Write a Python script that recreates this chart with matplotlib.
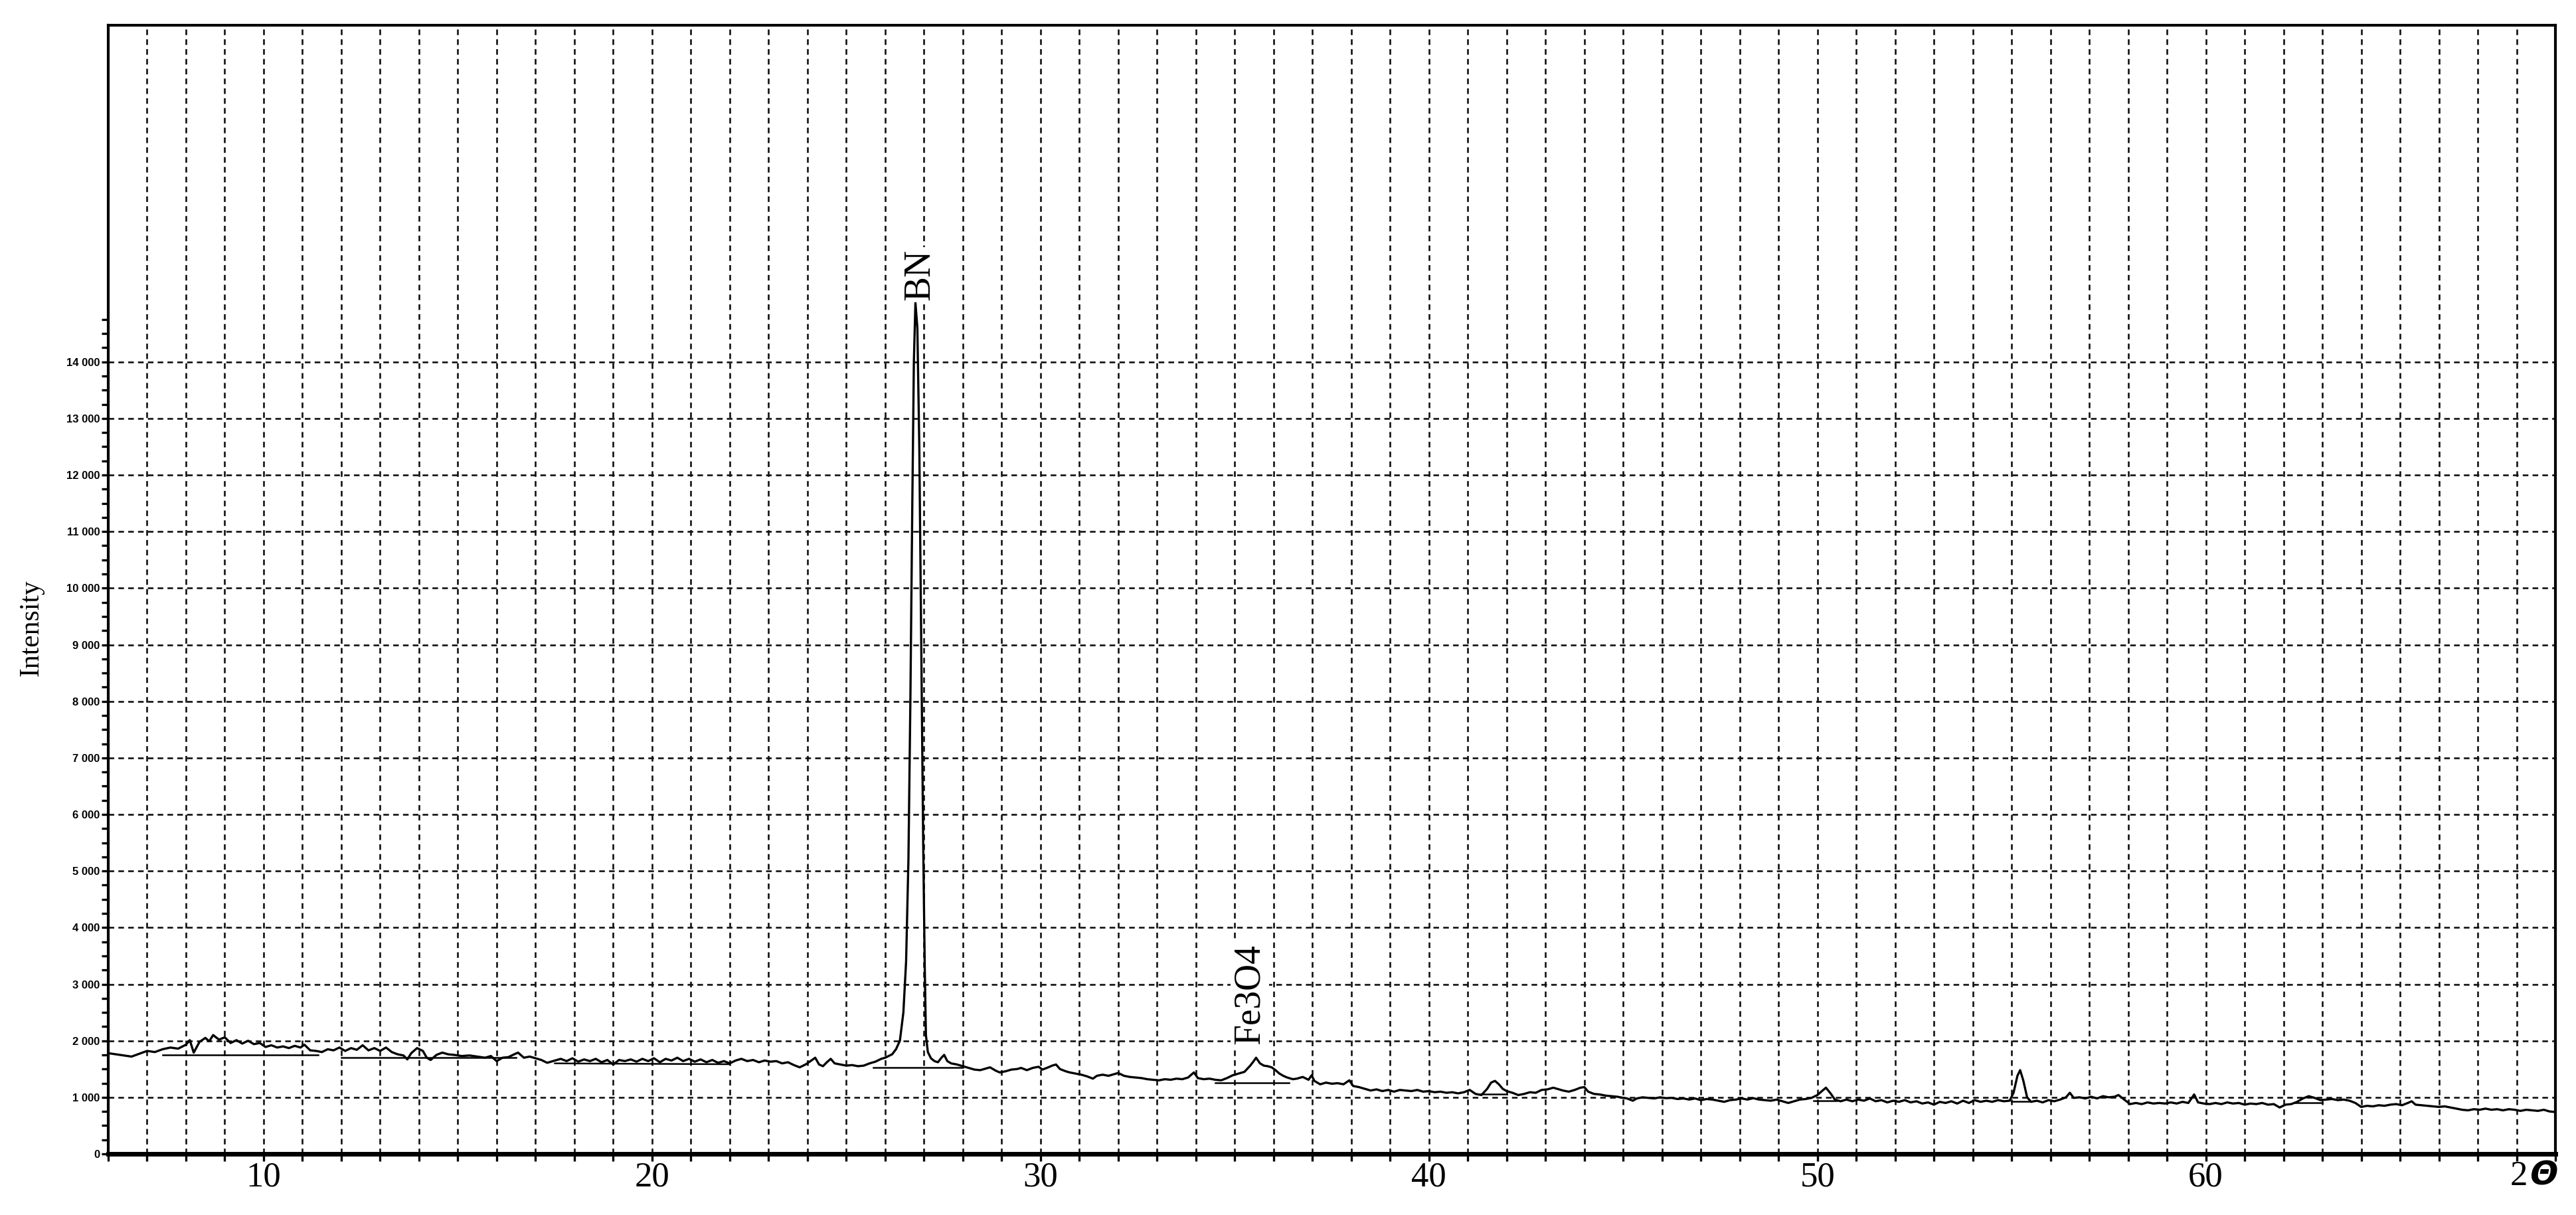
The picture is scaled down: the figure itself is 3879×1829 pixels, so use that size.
import matplotlib
matplotlib.use("Agg")
import matplotlib.pyplot as plt
from matplotlib.ticker import FixedLocator, FuncFormatter

# XRD scan (2-theta in degrees, intensity in counts)
two_theta = [
    6.0, 6.2, 6.4, 6.6, 6.8, 7.0, 7.2, 7.4, 7.6, 7.8, 8.0, 8.1, 8.2, 8.35, 8.5, 8.6, 8.7, 8.85,
    9.0, 9.15, 9.3, 9.45, 9.6, 9.75, 9.9, 10.05, 10.2, 10.35, 10.5, 10.65, 10.8, 10.95, 11.05,
    11.2, 11.35, 11.5, 11.65, 11.8, 11.95, 12.1, 12.25, 12.4, 12.55, 12.7, 12.85, 13.0, 13.15,
    13.3, 13.45, 13.6, 13.7, 13.8, 13.95, 14.1, 14.2, 14.3, 14.45, 14.6, 14.75, 14.9, 15.1, 15.3,
    15.5, 15.7, 15.85, 16.0, 16.15, 16.3, 16.45, 16.55, 16.7, 16.85, 17.0, 17.15, 17.3, 17.5,
    17.65, 17.8, 17.95, 18.1, 18.25, 18.4, 18.55, 18.7, 18.85, 19.0, 19.15, 19.3, 19.45, 19.6,
    19.75, 19.9, 20.05, 20.2, 20.35, 20.5, 20.65, 20.8, 20.95, 21.1, 21.25, 21.4, 21.55, 21.7,
    21.85, 22.0, 22.15, 22.3, 22.45, 22.6, 22.75, 22.9, 23.05, 23.2, 23.35, 23.5, 23.65, 23.8,
    23.95, 24.1, 24.2, 24.3, 24.4, 24.5, 24.6, 24.7, 24.85, 25.0, 25.15, 25.3, 25.45, 25.6,
    25.75, 25.9, 26.0, 26.18, 26.28, 26.38, 26.47, 26.54, 26.6, 26.65, 26.7, 26.74, 26.78,
    26.83, 26.88, 26.93, 26.98, 27.02, 27.05, 27.1, 27.18, 27.27, 27.36, 27.45, 27.52, 27.6,
    27.7, 27.85, 28.0, 28.15, 28.3, 28.45, 28.6, 28.7, 28.85, 28.95, 29.1, 29.25, 29.4, 29.5,
    29.65, 29.8, 29.95, 30.05, 30.2, 30.3, 30.4, 30.5, 30.65, 30.75, 30.9, 31.05, 31.2, 31.35,
    31.45, 31.6, 31.75, 31.9, 32.0, 32.15, 32.3, 32.45, 32.6, 32.75, 32.9, 33.05, 33.2, 33.35,
    33.5, 33.65, 33.8, 33.95, 34.05, 34.2, 34.35, 34.5, 34.65, 34.8, 34.95, 35.1, 35.25, 35.4,
    35.5, 35.55, 35.65, 35.75, 35.85, 35.95, 36.05, 36.15, 36.25, 36.35, 36.5, 36.6, 36.75,
    36.9, 36.98, 37.05, 37.2, 37.35, 37.5, 37.65, 37.8, 37.95, 38.05, 38.2, 38.35, 38.5, 38.65,
    38.8, 38.95, 39.1, 39.25, 39.4, 39.55, 39.7, 39.85, 40.0, 40.15, 40.3, 40.45, 40.6, 40.75,
    40.9, 41.05, 41.2, 41.35, 41.5, 41.6, 41.7, 41.8, 41.9, 42.0, 42.15, 42.3, 42.45, 42.6,
    42.75, 42.9, 43.05, 43.2, 43.3, 43.45, 43.6, 43.75, 43.9, 44.0, 44.1, 44.25, 44.4, 44.55,
    44.7, 44.85, 45.0, 45.1, 45.25, 45.35, 45.5, 45.65, 45.8, 45.95, 46.1, 46.25, 46.4, 46.55,
    46.7, 46.85, 47.0, 47.15, 47.3, 47.45, 47.6, 47.75, 47.9, 48.05, 48.2, 48.35, 48.5, 48.65,
    48.8, 48.95, 49.1, 49.25, 49.4, 49.55, 49.7, 49.85, 50.0, 50.1, 50.22, 50.35, 50.45, 50.6,
    50.75, 50.9, 51.05, 51.2, 51.35, 51.5, 51.65, 51.8, 51.95, 52.1, 52.25, 52.4, 52.55, 52.7,
    52.85, 53.0, 53.15, 53.3, 53.45, 53.6, 53.75, 53.9, 54.05, 54.2, 54.35, 54.5, 54.65, 54.8,
    54.95, 55.05, 55.15, 55.22, 55.3, 55.4, 55.5, 55.65, 55.8, 55.95, 56.1, 56.25, 56.4, 56.5,
    56.6, 56.75, 56.9, 57.05, 57.2, 57.35, 57.5, 57.65, 57.75, 57.9, 58.05, 58.2, 58.35, 58.5,
    58.65, 58.8, 58.95, 59.1, 59.25, 59.4, 59.55, 59.7, 59.8, 59.95, 60.1, 60.25, 60.4, 60.55,
    60.7, 60.85, 61.0, 61.15, 61.3, 61.45, 61.6, 61.75, 61.9, 62.05, 62.2, 62.35, 62.5, 62.65,
    62.8, 62.95, 63.1, 63.25, 63.4, 63.55, 63.7, 63.85, 64.0, 64.15, 64.3, 64.45, 64.6, 64.75,
    64.9, 65.05, 65.2, 65.3, 65.4, 65.55, 65.7, 65.85, 66.0, 66.15, 66.3, 66.45, 66.6, 66.75,
    66.9, 67.05, 67.2, 67.35, 67.5, 67.65, 67.8, 67.95, 68.1, 68.25, 68.4, 68.55, 68.7, 68.85,
    69.0,
]
intensity = [
    1780, 1760, 1740, 1720, 1770, 1820, 1800, 1850, 1880, 1860, 1930, 2010, 1790, 1980, 2050, 1990, 2100, 2020,
    2060, 1960, 2010, 1950, 2000, 1940, 1960, 1890, 1920, 1880, 1900, 1870, 1910, 1880, 1930,
    1830, 1820, 1800, 1850, 1830, 1880, 1820, 1870, 1840, 1920, 1830, 1870, 1820, 1880,
    1800, 1760, 1740, 1670, 1780, 1870, 1820, 1700, 1660, 1750, 1790, 1760, 1750, 1730, 1740,
    1720, 1700, 1730, 1640, 1700, 1710, 1760, 1790, 1700, 1720, 1690, 1660, 1610, 1650,
    1680, 1640, 1690, 1630, 1670, 1640, 1680, 1620, 1660, 1580, 1660, 1640, 1670, 1630,
    1680, 1640, 1690, 1620, 1680, 1650, 1700, 1640, 1680, 1630, 1670, 1620, 1660, 1610,
    1640, 1600, 1650, 1680, 1640, 1660, 1620, 1650, 1630, 1640, 1600, 1620, 1570, 1530,
    1580, 1650, 1700, 1580, 1550, 1620, 1680, 1600, 1580, 1560, 1570, 1550, 1560, 1600,
    1630, 1680, 1700, 1760, 1850, 2000, 2500, 3400, 5200, 8000, 11500, 14000, 15050,
    14600, 12500, 9000, 5500, 3300, 2100, 1800, 1690, 1640, 1620, 1700, 1750, 1640,
    1600, 1580, 1550, 1520, 1490, 1480, 1510, 1530, 1470, 1440, 1460, 1490, 1500, 1520,
    1480, 1520, 1540, 1490, 1530, 1560, 1580, 1500, 1460, 1440, 1420, 1400, 1370, 1330,
    1380, 1400, 1380, 1410, 1430, 1380, 1360, 1350, 1340, 1320, 1310, 1300, 1320, 1310,
    1330, 1320, 1350, 1440, 1340, 1320, 1330, 1310, 1300, 1340, 1390, 1420, 1450, 1560,
    1650, 1700, 1600, 1560, 1550, 1530, 1480, 1420, 1380, 1350, 1320, 1330, 1360,
    1310, 1390, 1290, 1230, 1260, 1240, 1250, 1230, 1300, 1200, 1180, 1150, 1120, 1140,
    1110, 1130, 1100, 1130, 1120, 1110, 1130, 1100, 1110, 1090, 1100, 1080, 1090, 1070,
    1090, 1130, 1060, 1040, 1150, 1260, 1290, 1230, 1150, 1110, 1080, 1040, 1060, 1090,
    1080, 1130, 1140, 1170, 1150, 1120, 1100, 1130, 1170, 1180, 1100, 1060, 1050, 1030,
    1020, 1010, 990, 980, 940, 980, 1000, 990, 980, 1000, 985, 990, 970, 980,
    960, 980, 950, 970, 960, 940, 920, 950, 960, 980, 960, 985, 960, 950,
    940, 960, 930, 900, 930, 960, 970, 990, 1040, 1100, 1170, 1060, 960, 930,
    960, 930, 960, 940, 980, 930, 950, 910, 940, 920, 950, 910, 930, 890,
    910, 870, 920, 900, 930, 890, 940, 900, 950, 920, 940, 920, 950, 930,
    940, 1080, 1380, 1480, 1300, 1000, 920, 940, 910, 950, 930, 960, 1000, 1080,
    990, 1000, 980, 1010, 980, 1020, 1000, 1010, 1040, 960, 880, 900, 880, 910,
    890, 900, 890, 910, 890, 920, 900, 1050, 910, 890, 880, 900, 880, 910,
    890, 900, 870, 890, 880, 900, 870, 880, 820, 870, 880, 920, 980, 1020,
    990, 950, 960, 970, 950, 960, 940, 900, 830, 850, 840, 860, 850, 870,
    880, 860, 900, 930, 870, 860, 850, 840, 830, 840, 820, 800, 780, 770,
    790, 780, 800, 780, 790, 770, 790, 780, 760, 780, 770, 760, 780, 750,
    740,
]

# straight background segments drawn by the software under the data
bg_x0 = [7.4, 12.0, 17.5, 25.7, 34.5, 41.3, 49.9, 55.0, 62.3]
bg_x1 = [11.4, 16.5, 22.0, 28.0, 36.4, 42.0, 50.5, 55.5, 63.0]
bg_y0 = [1750, 1700, 1600, 1525, 1255, 1060, 940, 930, 905]
bg_y1 = [1750, 1700, 1585, 1525, 1255, 1060, 940, 930, 905]

# phase labels: (name, 2-theta, intensity at bottom of text)
peak_names = ["BN", "Fe3O4"]
peak_pos = [26.9, 35.39]
peak_base = [15090, 1940]

x_min, x_max = 6, 69
y_max = 19950
x_labeled = [10, 20, 30, 40, 50, 60]

fig = plt.figure(figsize=(38.8, 18.29), dpi=100)
ax = fig.add_axes([163 / 3880, 1 - 1737 / 1829, (3848 - 163) / 3880, (1737 - 38) / 1829])

ax.plot(two_theta, intensity, color="black", lw=2.4, zorder=3)
for a, b, c, d in zip(bg_x0, bg_x1, bg_y0, bg_y1):
    ax.plot([a, b], [c, d], color="black", lw=1.8, zorder=3)

ax.set_xlim(x_min, x_max)
ax.set_ylim(0, y_max)

# grid: every degree vertically, every 1000 counts horizontally (up to 14 000)
grid_kw = dict(color="#111111", lw=1.9, ls=(0, (3.2, 2.4)), zorder=1)
for gx in range(7, 69):
    ax.axvline(gx, **grid_kw)
for gy in range(1000, 15000, 1000):
    ax.axhline(gy, **grid_kw)

ax.xaxis.set_major_locator(FixedLocator(list(range(6, 70))))
ax.xaxis.set_major_formatter(FuncFormatter(lambda v, p: str(int(round(v))) if int(round(v)) in x_labeled else ""))
ax.yaxis.set_major_locator(FixedLocator(list(range(0, 15000, 1000))))
ax.yaxis.set_minor_locator(FixedLocator(list(range(0, 15000, 250))))
ax.yaxis.set_major_formatter(FuncFormatter(lambda v, p: "{:,}".format(int(v)).replace(",", " ")))

ax.tick_params(axis="x", which="major", direction="out", length=8, width=2.4, pad=0,
               labelsize=38, labelfontfamily="Liberation Serif")
ax.tick_params(axis="y", which="both", direction="out", length=7, width=2.4, pad=2,
               labelsize=12)
for lab in ax.get_yticklabels():
    lab.set_fontweight("bold")
    lab.set_family(["Liberation Sans Narrow", "Liberation Sans", "DejaVu Sans"])

for side in ["left", "top", "right"]:
    ax.spines[side].set_linewidth(3)
ax.spines["bottom"].set_linewidth(5)

for name, px, py in zip(peak_names, peak_pos, peak_base):
    ax.text(px, py, name, rotation=90, ha="center", va="bottom", fontsize=40,
            family="Liberation Serif", zorder=4,
            bbox=dict(facecolor="white", edgecolor="none", pad=2))

ax.annotate("\u0398", xy=(x_max, 0), xycoords=("data", "axes fraction"), xytext=(4, -8),
            textcoords="offset pixels", ha="right", va="top", fontsize=36,
            fontweight="bold", fontstyle="italic", family="DejaVu Sans")
ax.annotate("2", xy=(x_max, 0), xycoords=("data", "axes fraction"), xytext=(-42, -10),
            textcoords="offset pixels", ha="right", va="top", fontsize=38,
            family="Liberation Serif")

fig.text(47 / 3880, 1 - 945 / 1829, "Intensity", rotation=90, ha="center", va="center",
         fontsize=30, family="Liberation Serif")

fig.savefig("out.png", dpi=100, facecolor="white")
